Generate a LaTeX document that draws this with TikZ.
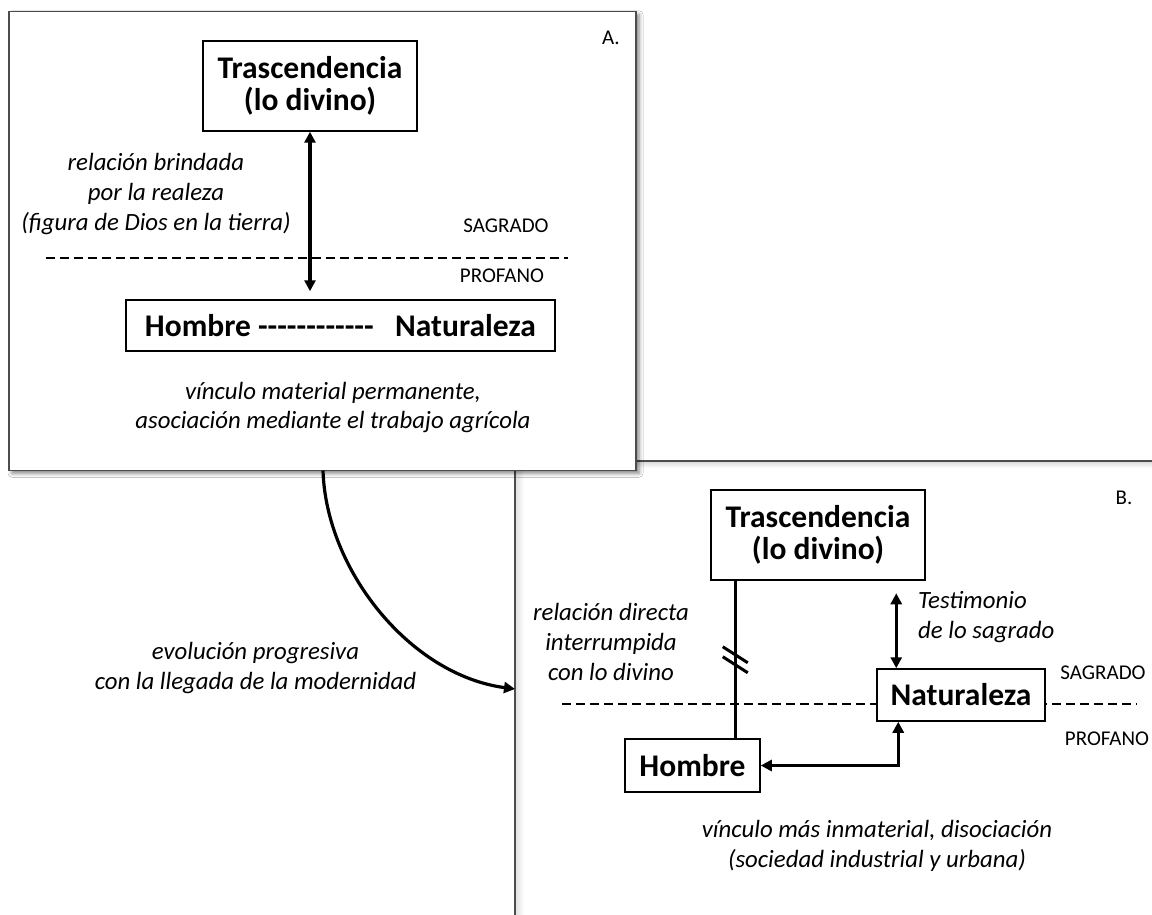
\documentclass[tikz,border=0pt]{standalone}
\usepackage{fontspec}
\setmainfont{Carlito}
\usetikzlibrary{arrows.meta,shadows.blur,calc}

\begin{document}
\begin{tikzpicture}[x=1pt,y=-1pt,
  panel/.style={draw=black!70, line width=1.3pt, fill=white,
    blur shadow={shadow xshift=3pt, shadow yshift=-3pt, shadow blur radius=4pt, shadow opacity=50}},
  termbox/.style={draw, line width=1.5pt, fill=white, inner sep=0pt, align=center,
    font=\fontsize{31.5}{32}\selectfont\bfseries},
  note/.style={font=\fontsize{24.8}{29.8}\selectfont\itshape, align=center, inner sep=0pt},
  zone/.style={font=\fontsize{21}{25}\selectfont, inner sep=0pt},
  tip/.tip={Triangle[length=11pt,width=11pt]},
  link/.style={line width=3.2pt, -tip},
  twoway/.style={line width=3.2pt, tip-tip},
  plain/.style={line width=3.2pt},
  sepline/.style={dash pattern=on 9pt off 5pt, line width=1.5pt},
]
\useasboundingbox (0,0) rectangle (1152,915);
\fill[white] (0,0) rectangle (1152,915);

% ---------- panel B frame (open to the right and bottom) ----------
\shade[top color=black!14, bottom color=white] (515,461.5) rectangle (1152,468);
\shade[left color=black!12, right color=white] (515.5,461) rectangle (524,915);
\draw[draw=black!70, line width=1.3pt] (1152,461) -- (515,461) -- (515,915);

% ---------- panel A ----------
\node[panel, minimum width=627pt, minimum height=458.5pt, inner sep=0pt] (panelA) at (322.5,241) {};

\node[zone] (labA) at (611,38) {A.};

\node[termbox, minimum width=214pt, minimum height=90pt] (tA) at (310,86)
  {Trascendencia\\(lo divino)};
\node[termbox, minimum width=429pt, minimum height=51pt] (hnA) at (340.5,325.5)
  {Hombre -\kern0pt-\kern0pt-\kern0pt-\kern0pt-\kern0pt-\kern0pt-\kern0pt-\kern0pt-\kern0pt-\kern0pt-\kern0pt-\ \ \ Naturaleza};

\draw[twoway] (tA.south) -- ($(tA.south |- hnA.north)+(0,-8)$);

\node[note] (relA) at (156,194) {relación brindada\\por la realeza\\(figura de Dios en la tierra)};

\node[zone] (sagA) at (506,226) {SAGRADO};
\node[zone] (proA) at (502,276) {PROFANO};
\coordinate (sepAl) at (45.5,258);
\coordinate (sepAr) at (567.5,258);
\draw[sepline] (sepAl) -- (sepAr);

\node[note] (vinA) at (333,407.5) {vínculo material permanente,\\asociación mediante el trabajo agrícola};

% ---------- transition between panels ----------
\coordinate (evoS) at (323,470.5);
\coordinate (evoE) at (515,689);
\draw[link] (evoS) .. controls (326,570) and (410,675) .. (evoE);
\node[note] (evo) at (255.5,668) {evolución progresiva\\con la llegada de la modernidad};

% ---------- panel B ----------
\node[zone] (labB) at (1124,498) {B.};

\coordinate (sepBl) at (562,704);
\coordinate (sepBr) at (1137,704);
\draw[sepline] (sepBl) -- (sepBr);

\node[termbox, minimum width=214pt, minimum height=90pt] (tB) at (818,535)
  {Trascendencia\\(lo divino)};
\node[termbox, minimum width=135pt, minimum height=53pt] (hB) at (692.5,765.5) {Hombre};
\node[termbox, minimum width=168pt, minimum height=52pt] (nB) at (961,695) {Naturaleza};

% interrupted link between man and the divine
\coordinate (cutTop) at ($(tB.south west)+(25,0)$);
\draw[plain] (cutTop) -- (cutTop |- hB.north);
\draw[line width=3pt] ($(cutTop)+(-12.5,66)$) -- ($(cutTop)+(12.5,82)$);
\draw[line width=3pt] ($(cutTop)+(-12.5,76)$) -- ($(cutTop)+(12.5,92)$);

% testimony of the sacred
\coordinate (testTop) at ($(nB.north west)+(20,-75)$);
\draw[twoway] (testTop) -- (testTop |- nB.north);

% man and nature
\draw[twoway] ($(nB.south west)+(22,0)$) |- (hB.east);

\node[note] (relB) at (611,642) {relación directa\\interrumpida\\con lo divino};
\node[note, align=left, anchor=west] (testB) at (918,617) {Testimonio\\de lo sagrado};

\node[zone] (sagB) at (1103,673) {SAGRADO};
\node[zone] (proB) at (1107,739) {PROFANO};

\node[note] (vinB) at (877,846) {vínculo más inmaterial, disociación\\(sociedad industrial y urbana)};
\end{tikzpicture}
\end{document}
